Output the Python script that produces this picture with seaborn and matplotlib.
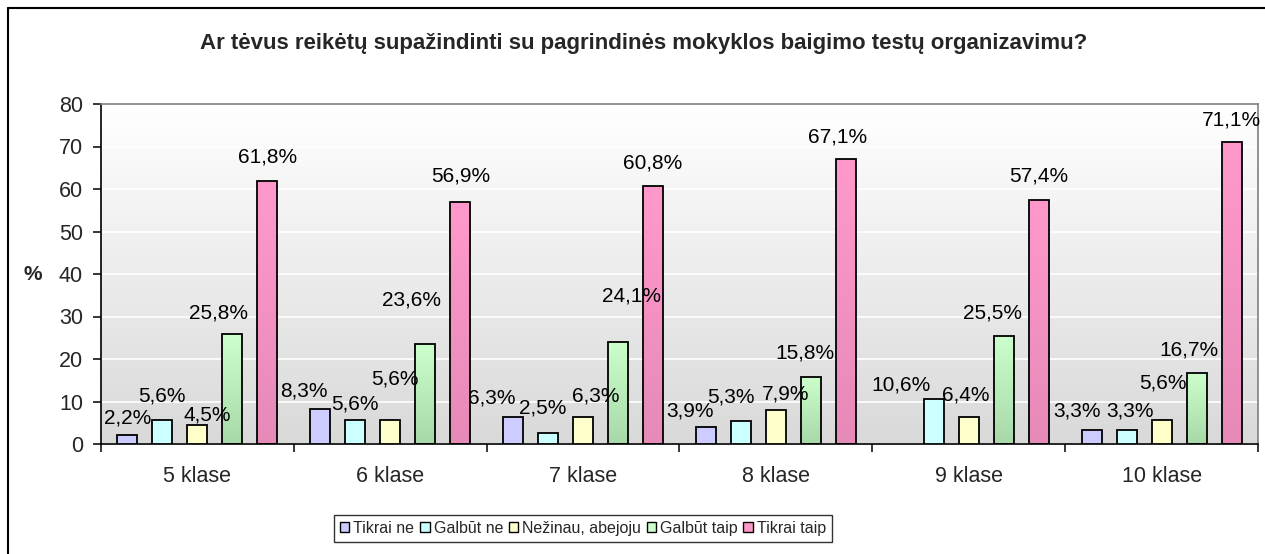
import numpy as np
import pandas as pd
import matplotlib
matplotlib.use("Agg")
import matplotlib.pyplot as plt
import seaborn as sns
from matplotlib.patches import Patch
from matplotlib.lines import Line2D
from matplotlib.colors import to_rgb

categories = ["5 klase", "6 klase", "7 klase", "8 klase", "9 klase", "10 klase"]
series = ["Tikrai ne", "Galbūt ne", "Nežinau, abejoju", "Galbūt taip", "Tikrai taip"]
tikrai_ne = [2.2, 8.3, 6.3, 3.9, np.nan, 3.3]
galbut_ne = [5.6, 5.6, 2.5, 5.3, 10.6, 3.3]
nezinau = [4.5, 5.6, 6.3, 7.9, 6.4, 5.6]
galbut_taip = [25.8, 23.6, 24.1, 15.8, 25.5, 16.7]
tikrai_taip = [61.8, 56.9, 60.8, 67.1, 57.4, 71.1]
title = "Ar tėvus reikėtų supažindinti su pagrindinės mokyklos baigimo testų organizavimu?"
y_label = "%"

top_colors = ["#CCCCFF", "#CCFFFF", "#FFFFCC", "#CCFFCC", "#FF99CC"]
bottom_colors = ["#CCCCFF", "#CCFFFF", "#FFFFCC", "#A8D8A8", "#E68AB8"]

# label placement style (pixel offsets of label centre from bar top centre)
label_offsets = {
    (0, 0): (0, 17), (1, 0): (0, 24), (2, 0): (10, 10), (3, 0): (-14, 21), (4, 0): (0, 24),
    (0, 1): (-16, 18), (1, 1): (0, 16), (2, 1): (5, 41), (3, 1): (-14, 44), (4, 1): (0, 26),
    (0, 2): (-21, 19), (1, 2): (-5, 25), (2, 2): (13, 21), (3, 2): (13, 46), (4, 2): (0, 23),
    (0, 3): (-16, 16), (1, 3): (-10, 24), (2, 3): (10, 16), (3, 3): (-6, 24), (4, 3): (-8, 22),
    (1, 4): (-33, 14), (2, 4): (-3, 22), (3, 4): (-11, 23), (4, 4): (0, 24),
    (0, 5): (-15, 19), (1, 5): (3, 19), (2, 5): (1, 37), (3, 5): (-8, 23), (4, 5): (0, 22),
}

values = [tikrai_ne, galbut_ne, nezinau, galbut_taip, tikrai_taip]
rows = []
for s, vals in zip(series, values):
    for c, v in zip(categories, vals):
        rows.append({"klase": c, "atsakymas": s, "proc": v})
df = pd.DataFrame(rows).dropna()

sns.set_style("white")
plt.rcParams["font.family"] = ["Liberation Sans", "DejaVu Sans"]

W, H = 1265, 554
fig = plt.figure(figsize=(W / 100, H / 100), dpi=100)
L, R, B, T = 101, 1258, 444, 104
ax = fig.add_axes([L / W, 1 - B / H, (R - L) / W, (B - T) / H])

sns.barplot(data=df, x="klase", y="proc", hue="atsakymas", order=categories,
            hue_order=series, palette=top_colors, width=0.908, gap=0.43,
            errorbar=None, edgecolor="black", linewidth=1.3, ax=ax, legend=False,
            saturation=1)

ax.set_xlim(-0.5, 5.5)
ax.set_ylim(0, 80)

# background gradient
bg = np.linspace(0, 1, 256).reshape(-1, 1)
top_bg = np.array([1.0, 1.0, 1.0])
bot_bg = np.array(to_rgb("#D9D9D9"))
bg_img = top_bg[None, None, :] * (1 - bg[..., None]) + bot_bg[None, None, :] * bg[..., None]
ax.imshow(bg_img, extent=[-0.5, 5.5, 0, 80], aspect="auto", zorder=0, origin="upper")

ax.set_yticks(range(0, 81, 10))
ax.yaxis.grid(True, color="white", linewidth=1.2, zorder=0.5)
ax.set_axisbelow(True)

# bar gradients & labels
for i, cont in enumerate(ax.containers):
    tc = np.array(to_rgb(top_colors[i]))
    bc = np.array(to_rgb(bottom_colors[i]))
    present = [j for j, v in enumerate(values[i]) if not np.isnan(v)]
    for patch, val, j in zip(cont.patches, cont.datavalues, present):
        patch.set_zorder(3)
        x0, w, h = patch.get_x(), patch.get_width(), patch.get_height()
        if top_colors[i] != bottom_colors[i]:
            t = np.linspace(0, 1, 128).reshape(-1, 1)
            img = tc[None, None, :] * (1 - t[..., None]) + bc[None, None, :] * t[..., None]
            im = ax.imshow(img, extent=[x0, x0 + w, 0, h], aspect="auto",
                           zorder=2.5, origin="upper")
            im.set_clip_path(patch)
            patch.set_facecolor("none")
        dx, dy = label_offsets.get((i, j), (0, 22))
        ax.annotate(f"{val:.1f}%".replace(".", ","), (x0 + w / 2, h),
                    xytext=(dx, dy), textcoords="offset pixels", ha="center",
                    va="center", fontsize=15, color="black", clip_on=False,
                    zorder=5)

ax.set_xlim(-0.5, 5.5)
ax.set_ylim(0, 80)

for side in ["left", "bottom"]:
    ax.spines[side].set_color("black")
    ax.spines[side].set_linewidth(1.2)
for side in ["top", "right"]:
    ax.spines[side].set_color("#808080")
    ax.spines[side].set_linewidth(1.2)
    ax.spines[side].set_visible(True)

ax.tick_params(axis="y", which="major", length=6, width=1.1, color="black",
               direction="out", labelsize=15.5, pad=7, left=True)
ax.set_xticks(np.arange(-0.5, 6, 1), minor=True)
ax.tick_params(axis="x", which="minor", length=6, width=1.1, color="black",
               direction="out", bottom=True)
ax.tick_params(axis="x", which="major", length=0, labelsize=15.5, pad=16)
ax.set_xlabel("")
ax.set_ylabel(y_label, fontsize=15, fontweight="bold", rotation=0, va="center", ha="center")
ax.yaxis.set_label_coords((33 - L) / (R - L), 0.5)

fig.text(644 / W, 1 - 43 / H, title, ha="center", va="center",
         fontsize=16, fontweight="bold")

handles = [Patch(facecolor=c, edgecolor="black", linewidth=1.0) for c in top_colors]
leg = fig.legend(handles, series, loc="center", bbox_to_anchor=(583 / W, 1 - 528.5 / H),
                 ncol=5, frameon=True, fontsize=11.5, handlelength=0.6, handleheight=0.6,
                 handletextpad=0.25, columnspacing=0.35, borderpad=0.35, borderaxespad=0,
                 fancybox=False, edgecolor="black")
leg.get_frame().set_linewidth(1.0)

# outer chart border (left and top visible)
fig.add_artist(Line2D([8 / W, 8 / W], [0, 1 - 8 / H], transform=fig.transFigure,
                      color="black", linewidth=1.5))
fig.add_artist(Line2D([8 / W, 1], [1 - 8 / H, 1 - 8 / H], transform=fig.transFigure,
                      color="black", linewidth=1.5))

fig.savefig("out.png", dpi=100, facecolor="white")
